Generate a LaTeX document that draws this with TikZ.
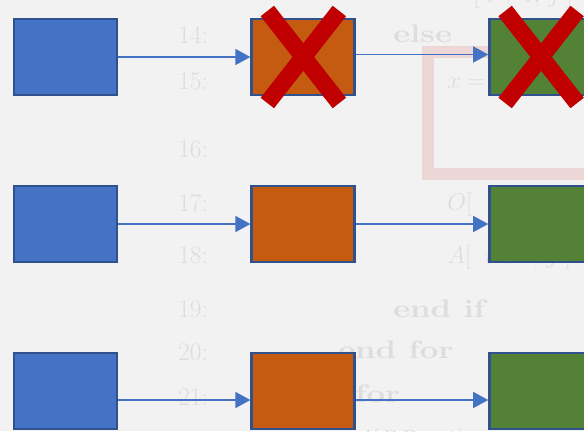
\documentclass[tikz,border=0pt]{standalone}
\usepackage{fontspec}
\usepackage{tikz}
\usetikzlibrary{arrows.meta,positioning}
\newfontfamily\kwfont[FakeStretch=1.3]{Latin Modern Roman}
\definecolor{bgpage}{RGB}{242,242,242}
\definecolor{ghost}{RGB}{221,221,221}
\definecolor{hilite}{RGB}{236,214,214}
\definecolor{edgeblue}{RGB}{47,82,143}
\definecolor{fillblue}{RGB}{68,114,196}
\definecolor{fillorange}{RGB}{197,90,17}
\definecolor{fillgreen}{RGB}{83,129,53}
\definecolor{crossred}{RGB}{192,0,0}
\tikzset{
  blk/.style={draw=edgeblue,line width=2pt,minimum width=25.75mm,minimum height=19mm,inner sep=0pt},
  arr/.style={-{Triangle[length=3.75mm,width=4mm]},draw=fillblue,fill=fillblue,line width=1pt},
  cross/.style={draw=crossred,line width=4.25mm},
  code/.style={text=ghost,font=\fontsize{18}{20}\selectfont,anchor=base west,inner sep=0pt},
  kw/.style={code,font=\fontsize{18}{20}\selectfont\kwfont\bfseries}
}

\begin{document}
\begin{tikzpicture}[x=0.25mm,y=-0.25mm]
\useasboundingbox (0,0) rectangle (584,431);
\clip (0,0) rectangle (584,431);
\fill[bgpage] (0,0) rectangle (584,431);
% faded listing behind the pipeline
\draw[hilite,line width=3mm] (428,51.5) rectangle (640,173.5);
\foreach \k/\y in {14/43,15/89,16/157,17/211,18/263,19/317,20/360,21/405,22/449}
  \node[code] (ln\k) at (178,\y) {\k:};
\node[code] (top) at (473,2) {$[\;i+1,\,j\;]$};
\node[kw] (kelse) at (393,42) {else};
\node[code] (xset) at (447,88) {$x = {}$};
\node[code] (oset) at (447,210) {$O[$};
\node[code] (aset) at (447,263) {$A[\;\;i+1,\,j\;]$};
\node[kw] (kendif) at (393,317) {end if};
\node[kw] (kendfor) at (338,358) {end for};
\node[kw] (kfor) at (355,402) {for};
\node[code] (abp) at (355,447) {$A[BP-1]$};
% three rows of stages
\foreach \y/\n in {57/1,224/2,391/3}{
  \node[blk,fill=fillblue] (a\n) at (65.5,\y) {};
  \node[blk,fill=fillorange,right=33mm of a\n] (b\n) {};
  \node[blk,fill=fillgreen,right=33mm of b\n] (c\n) {};
}
\foreach \n/\dy/\ey in {1/0/0.625,2/0/0,3/-2.25/-2.25}{
  \draw[arr] ([yshift=\dy mm]a\n.east) -- ([yshift=\dy mm]b\n.west);
  \draw[arr] ([yshift=\ey mm]b\n.east) -- ([yshift=\ey mm]c\n.west);
}
% failed stages
\foreach \t in {b1,c1}{
  \draw[cross] ([shift={(-36,-46)}]\t.center) -- ([shift={(36,46)}]\t.center);
  \draw[cross] ([shift={(36,-46)}]\t.center) -- ([shift={(-36,46)}]\t.center);
}
\end{tikzpicture}
\end{document}
